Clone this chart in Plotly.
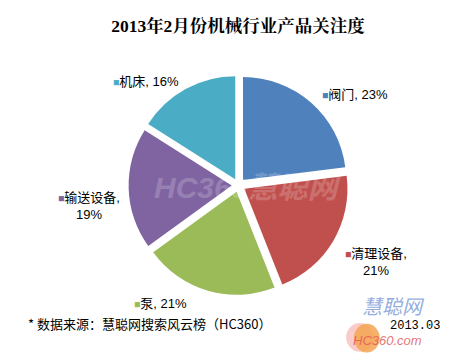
import plotly.graph_objects as go

categories = ["阀门", "清理设备", "泵", "输送设备", "机床"]
values = [23, 21, 21, 19, 16]
colors = ["#4F81BD", "#C0504D", "#9BBB59", "#8064A2", "#4BACC6"]
label_breaks = [False, True, False, True, False]

# label anchor positions (paper coordinates), layout only
label_pos = [(0.7537, 0.757), (0.799, 0.2905), (0.3315, 0.1732), (0.176, 0.447), (0.300, 0.796)]

fig = go.Figure()
fig.add_trace(go.Pie(
    labels=categories,
    values=values,
    textinfo="none",
    sort=False,
    direction="clockwise",
    rotation=0,
    pull=[0.066] * len(values),
    marker=dict(colors=colors, line=dict(width=0)),
    domain=dict(x=[0.2565, 0.7457], y=[0.198, 0.812]),
    showlegend=False,
    hoverinfo="label+value",
))

for c, v, col, br, (lx, ly) in zip(categories, values, colors, label_breaks, label_pos):
    sep = ",<br>" if br else ", "
    txt = f"<span style='color:{col};font-size:10.5px'>■</span>{c}{sep}{v}%"
    fig.add_annotation(text=txt, x=lx, y=ly, xref="paper", yref="paper", showarrow=False,
                       xanchor="center", yanchor="middle", align="center",
                       font=dict(size=13, color="#000000", family="Liberation Sans, Noto Sans CJK SC"))

# faint watermark in centre
fig.add_annotation(text="<i><b>HC360慧聪网</b></i>", x=0.52, y=0.50, xref="paper", yref="paper",
                   showarrow=False, font=dict(size=30, color="rgba(255,255,255,0.2)", family="Liberation Sans, Noto Sans CJK SC"))

# bottom-right logo
fig.add_shape(type="circle", xref="paper", yref="paper", x0=0.735, x1=0.795, y0=0.04, y1=0.12,
              fillcolor="rgba(240,110,100,0.35)", line=dict(width=0))
fig.add_shape(type="circle", xref="paper", yref="paper", x0=0.752, x1=0.808, y0=0.038, y1=0.118,
              fillcolor="rgba(245,165,80,0.85)", line=dict(width=0))
fig.add_annotation(text="<i>慧聪网</i>", x=0.91, y=0.124, xref="paper", yref="paper", showarrow=False,
                   font=dict(size=20, color="rgba(120,150,215,0.8)", family="Noto Sans CJK SC"))
fig.add_annotation(text="<i>HC360.com</i>", x=0.905, y=0.045, xref="paper", yref="paper", showarrow=False,
                   font=dict(size=13, color="rgba(225,90,90,0.85)", family="Liberation Sans"))

fig.add_annotation(text="* 数据来源：慧聪网搜索风云榜（HC360）", x=0.04, y=0.087, xref="paper", yref="paper",
                   xanchor="left", showarrow=False,
                   font=dict(size=13, color="#000000", family="Noto Sans CJK SC"))
fig.add_annotation(text="2013.03", x=0.825, y=0.087, xref="paper", yref="paper",
                   xanchor="left", showarrow=False,
                   font=dict(size=12, color="#000000", family="Liberation Mono, DejaVu Sans Mono"))

fig.update_layout(
    width=460, height=358,
    margin=dict(l=0, r=0, t=0, b=0),
    paper_bgcolor="#FFFFFF",
    plot_bgcolor="#FFFFFF",
    title=dict(text="<b>2013年2月份机械行业产品关注度</b>", x=0.5, xanchor="center", y=0.95, yanchor="middle",
               font=dict(size=17.5, color="#000000", family="Liberation Serif, Noto Serif CJK SC, Noto Sans CJK SC")),
)

fig.write_html("out.html")
